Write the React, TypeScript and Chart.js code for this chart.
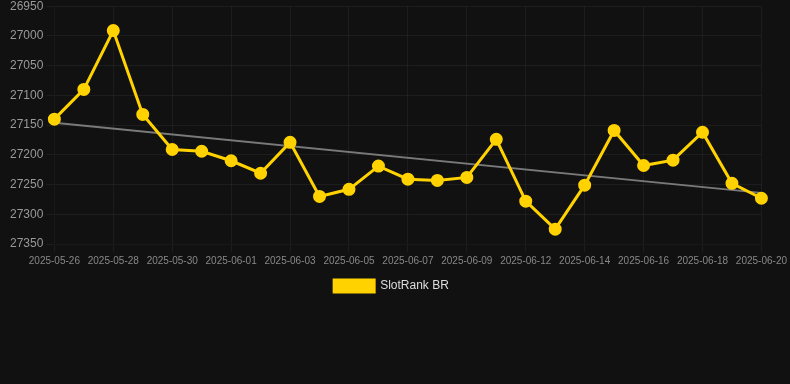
import React, { useEffect, useRef } from "react";
import { Chart, registerables } from "chart.js";

Chart.register(...registerables);

const dates = [
  "2025-05-26", "2025-05-27", "2025-05-28", "2025-05-29", "2025-05-30", "2025-05-31",
  "2025-06-01", "2025-06-02", "2025-06-03", "2025-06-04", "2025-06-05", "2025-06-06",
  "2025-06-07", "2025-06-08", "2025-06-09", "2025-06-10", "2025-06-12", "2025-06-13",
  "2025-06-14", "2025-06-15", "2025-06-16", "2025-06-17", "2025-06-18", "2025-06-19",
  "2025-06-20",
];

const rankValues = [
  27140, 27090, 26991, 27132, 27191, 27194, 27210, 27231, 27179, 27270, 27258, 27219,
  27241, 27243, 27238, 27174, 27278, 27325, 27251, 27159, 27218, 27209, 27162, 27248,
  27273,
];

const trendStart = 27146;
const trendEnd = 27264;

const seriesLabel = "SlotRank BR";

export default function App() {
  const ref = useRef<HTMLCanvasElement>(null);

  useEffect(() => {
    document.body.style.margin = "0";
    document.body.style.background = "#111111";
    const trend = dates.map((_, i) =>
      i === 0 ? trendStart : i === dates.length - 1 ? trendEnd : null
    );
    const chart = new Chart(ref.current!, {
      type: "line",
      data: {
        labels: dates,
        datasets: [
          {
            label: seriesLabel,
            data: rankValues,
            borderColor: "#FFD200",
            backgroundColor: "#FFD200",
            borderWidth: 3,
            pointRadius: 5,
            pointBackgroundColor: "#FFD200",
            pointBorderColor: "#FFD200",
            tension: 0,
          },
          {
            label: "trend",
            data: trend,
            borderColor: "rgba(140,140,140,0.85)",
            borderWidth: 2,
            pointRadius: 0,
            spanGaps: true,
            fill: false,
          },
        ],
      },
      options: {
        animation: false,
        responsive: false,
        maintainAspectRatio: false,
        layout: { padding: { left: 7, right: 14 } },
        scales: {
          x: {
            offset: false,
            grid: { color: "rgba(255,255,255,0.05)" },
            ticks: { color: "#888", font: { size: 10 }, maxRotation: 0, autoSkip: true },
          },
          y: {
            reverse: true,
            min: 26950,
            max: 27350,
            grid: { color: "rgba(255,255,255,0.05)" },
            ticks: {
              color: "#999",
              font: { size: 12 },
              stepSize: 50,
              callback: (v) => String(v),
            },
          },
        },
        plugins: {
          legend: {
            position: "bottom",
            labels: {
              color: "#ddd",
              font: { size: 12 },
              boxWidth: 40,
              boxHeight: 12,
              filter: (item) => item.text !== "trend",
            },
          },
          tooltip: { enabled: false },
        },
      },
    });
    return () => chart.destroy();
  }, []);

  return (
    <div style={{ background: "#111111", width: 790, height: 384, overflow: "hidden" }}>
      <canvas
        ref={ref}
        width={790}
        height={306}
        style={{ display: "block", marginTop: -4 }}
      />
    </div>
  );
}
